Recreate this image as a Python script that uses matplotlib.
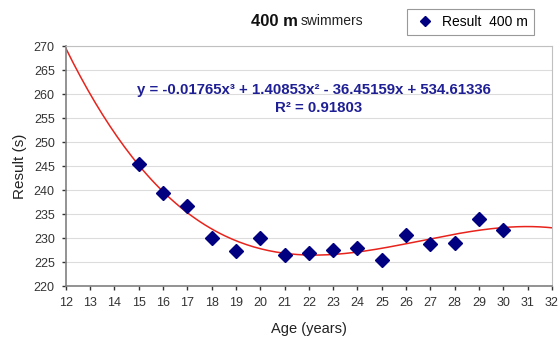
import numpy as np
import matplotlib
matplotlib.use('Agg')
import matplotlib.pyplot as plt

plt.rcParams['font.family'] = ['Liberation Sans', 'DejaVu Sans']

# measured results (s) of 400 m swimmers by age
ages = [15, 16, 17, 18, 19, 20, 21, 22, 23, 24, 25, 26, 27, 28, 29, 30]
results = [245.4, 239.3, 236.7, 230.1, 227.4, 230.0, 226.5, 226.8,
           227.5, 227.9, 225.4, 230.6, 228.7, 228.9, 234.0, 231.7]

# trendline coefficients as printed on the chart
trend_coef = [-0.01765, 1.40853, -36.45159, 534.61336]
r2 = 0.91803

x_ticks = list(range(12, 33))
y_ticks = list(range(220, 271, 5))

fig = plt.figure(figsize=(5.58, 3.41), dpi=100)
ax = fig.add_axes([0.118, 0.161, 0.871, 0.704])

# trend line
xx = np.linspace(12, 32, 200)
ax.plot(xx, np.polyval(trend_coef, xx), color='#e8231c', lw=1.1, zorder=2)

# data points
ax.plot(ages, results, 'D', color='#000080', markersize=7, ls='none',
        zorder=3, label='Result  400 m')

ax.set_xlim(12, 32)
ax.set_ylim(220, 270)
ax.set_xticks(x_ticks)
ax.set_yticks(y_ticks)
ax.tick_params(labelsize=9, colors='#333333', length=3, width=1,
               direction='out', pad=5)
ax.yaxis.grid(True, color='#dcdcdc', lw=0.8)
ax.set_axisbelow(True)
for s in ['left', 'bottom']:
    ax.spines[s].set_color('#808080')
    ax.spines[s].set_linewidth(1.2)
for s in ['top', 'right']:
    ax.spines[s].set_color('#c0c0c0')
    ax.spines[s].set_linewidth(0.8)

ax.set_ylabel('Result (s)', fontsize=11, color='#222222', labelpad=5)
ax.set_xlabel('Age (years)', fontsize=10.5, color='#222222', labelpad=9)

# equation of the trendline
eq_color = '#1f1f95'
ax.text(0.51, 0.815,
        'y = -0.01765x³ + 1.40853x² - 36.45159x + 534.61336',
        transform=ax.transAxes, ha='center', va='center', fontsize=10.8,
        fontweight='bold', color=eq_color)
ax.text(0.52, 0.74, 'R² = %.5f' % r2, transform=ax.transAxes,
        ha='center', va='center', fontsize=10.8, fontweight='bold',
        color=eq_color)

# title: bold part + regular part
fig.text(0.534, 0.938, '400 m', ha='right', va='center', fontsize=12,
         fontweight='bold', color='#111111')
fig.text(0.538, 0.938, 'swimmers', ha='left', va='center', fontsize=10,
         color='#222222')

leg = ax.legend(loc='center', bbox_to_anchor=(0.843, 0.935),
                bbox_transform=fig.transFigure, frameon=True, fancybox=False,
                edgecolor='#808080', fontsize=10, handletextpad=0.3,
                borderpad=0.45, markerscale=0.75, handlelength=1.8)
leg.get_frame().set_linewidth(0.8)

plt.savefig('out.png', dpi=100)
